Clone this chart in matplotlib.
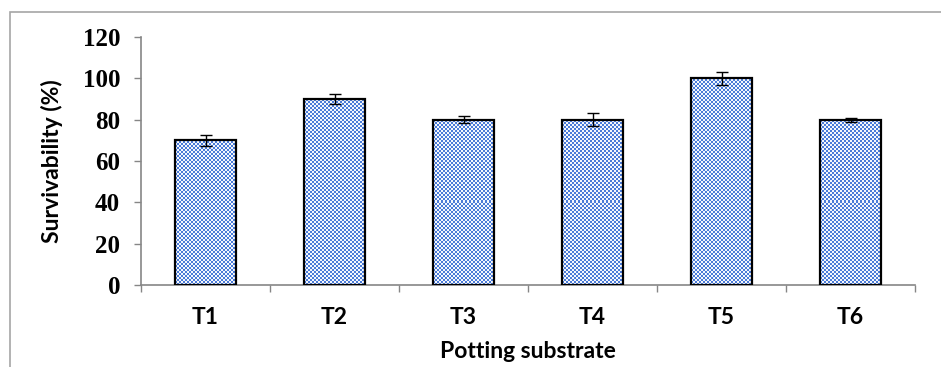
import numpy as np
import matplotlib
matplotlib.use('Agg')
import matplotlib.pyplot as plt
from matplotlib.patches import Rectangle
from matplotlib.colors import ListedColormap

categories = ['T1', 'T2', 'T3', 'T4', 'T5', 'T6']
survival = [70, 90, 80, 80, 100, 80]
errors = [2.8, 2.3, 1.8, 3.0, 3.0, 1.0]

sans = ['Lato', 'DejaVu Sans']
serif = ['Liberation Serif', 'DejaVu Serif']

fig = plt.figure(figsize=(9.41, 3.67), dpi=100)
ax = fig.add_axes([141/941, 1 - 285/367, 774/941, 248/367])

x = np.arange(len(categories))
bars = ax.bar(x, survival, width=0.47, facecolor='none', edgecolor='black',
              linewidth=1.6, zorder=3)
ax.errorbar(x, survival, yerr=errors, fmt='none', ecolor='black',
            elinewidth=1.0, capsize=4.3, capthick=1.0, zorder=4)

ax.set_xlim(-0.5, len(categories) - 0.5)
ax.set_ylim(0, 120)

# checkered fill (2 px squares), clipped to each bar
cmap = ListedColormap(['#F4F7FC', '#4A7BD8'])
px_x = 774 / len(categories)
px_y = 248 / 120
for b in bars:
    x0, w, h = b.get_x(), b.get_width(), b.get_height()
    nx = int(round(w * px_x))
    ny = int(round(h * px_y))
    board = (np.add.outer(np.arange(ny) // 2, np.arange(nx) // 2) % 2)
    im = ax.imshow(board, cmap=cmap, extent=(x0, x0 + w, 0, h), origin='lower',
                   interpolation='nearest', aspect='auto', zorder=2)
    im.set_clip_path(b)
ax.set_xlim(-0.5, len(categories) - 0.5)
ax.set_ylim(0, 120)

ax.set_yticks(np.arange(0, 121, 20))
ax.set_yticklabels([str(v) for v in range(0, 121, 20)], family=serif,
                   fontweight='bold', fontsize=18)
ax.set_xticks(x)
ax.set_xticklabels(categories, family=sans, fontweight='bold', fontsize=16.5)
ax.set_xticks(np.arange(-0.5, len(categories)), minor=True)
ax.tick_params(axis='x', which='major', length=0, pad=16)
ax.tick_params(axis='x', which='minor', length=5, color='#868686', width=1)
ax.tick_params(axis='y', length=5, color='#868686', width=1, pad=10)

for s in ['top', 'right']:
    ax.spines[s].set_visible(False)
for s in ['left', 'bottom']:
    ax.spines[s].set_color('#868686')
    ax.spines[s].set_linewidth(1.2)

ax.set_xlabel('Potting substrate', family=sans, fontweight='bold', fontsize=16.5,
              labelpad=9)
ax.set_ylabel('Survivability (%)', family=sans, fontweight='bold', fontsize=16.5,
              labelpad=14)

fig.patches.append(Rectangle((10/941, -0.2), 1.2, 1 - 12/367 + 0.2,
                             transform=fig.transFigure, fill=False,
                             edgecolor='#A6A6A6', linewidth=1.2))

fig.savefig('out.png', dpi=100)
